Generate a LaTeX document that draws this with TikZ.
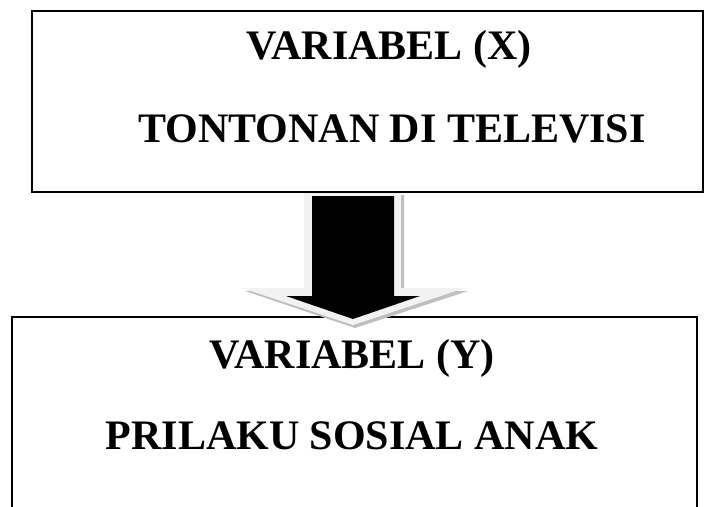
\documentclass[tikz,border=0pt]{standalone}
\usepackage{fontspec}
\setmainfont{Liberation Serif}
\begin{document}
\begin{tikzpicture}[x=1pt,y=-1pt,
  frame/.style={draw=black, line width=1.8pt, inner sep=0pt, anchor=north west},
  caption/.style={font=\bfseries\fontsize{42}{50}\selectfont, inner sep=0pt, anchor=base},
  arrowlight/.style={fill=black!5},
  arrowshadow/.style={fill=black!25},
]
\useasboundingbox (0,0) rectangle (704,506);
\fill[white] (0,0) rectangle (704,506);

% upper box: variable X
\node[frame, minimum width=671pt, minimum height=181pt] (xbox) at (31,10) {};
\node[caption] (xtitle) at (389,59) {VARIABEL (X)};
\node[caption] (xname) at (392,142.7) {TONTONAN DI TELEVISI};

% lower box: variable Y (runs on past the bottom edge)
\node[frame, minimum width=685pt, minimum height=230pt] (ybox) at (11,316) {};
\node[caption] (ytitle) at (352,368) {VARIABEL (Y)};
\node[caption] (yname) at (352,449) {PRILAKU SOSIAL ANAK};

% block arrow from X down to Y: shadow, light bevel, black body
\coordinate (tip) at (353,319);
\fill[arrowshadow] (306,195) -- (404,195) -- (404,291) -- (468,291) -- (355,328) -- (245,291) -- (306,291) -- cycle;
\fill[arrowlight] (304,193) -- (401,193) -- (401,288) -- (465,288) -- (353,325) -- (242,288) -- (304,288) -- cycle;
\fill[black] (312,196) -- (394,196) -- (394,296) -- (420,296) -- (tip) -- (286,296) -- (312,296) -- cycle;
\end{tikzpicture}
\end{document}
